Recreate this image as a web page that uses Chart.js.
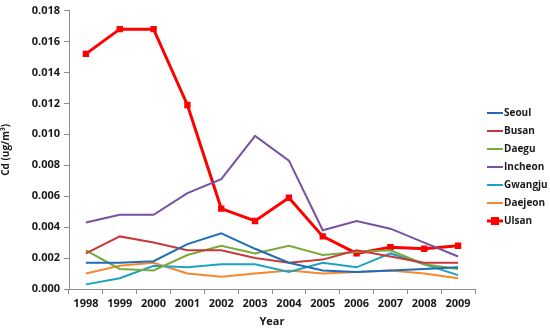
<!DOCTYPE html>
<html>
<head>
<meta charset="utf-8">
<script src="https://cdn.jsdelivr.net/npm/chart.js@4/dist/chart.umd.min.js"></script>
<style>
  html, body { margin: 0; padding: 0; background: #fff; }
  #wrap { width: 550px; height: 328px; position: relative; }
</style>
</head>
<body>
<div id="wrap"><canvas id="cd-chart"></canvas></div>
<script>
const years = ['1998', '1999', '2000', '2001', '2002', '2003', '2004', '2005', '2006', '2007', '2008', '2009'];

const seoul   = [0.0017, 0.0017, 0.0018, 0.0029, 0.0036, 0.0026, 0.0017, 0.0012, 0.0011, 0.0012, 0.0013, 0.0014];
const busan   = [0.0023, 0.0034, 0.0030, 0.0025, 0.0025, 0.0020, 0.0017, 0.0019, 0.0025, 0.0021, 0.0017, 0.0017];
const daegu   = [0.0025, 0.0013, 0.0012, 0.0022, 0.0028, 0.0023, 0.0028, 0.0022, 0.0024, 0.0025, 0.0016, 0.0013];
const incheon = [0.0043, 0.0048, 0.0048, 0.0062, 0.0071, 0.0099, 0.0083, 0.0038, 0.0044, 0.0039, 0.0030, 0.0021];
const gwangju = [0.0003, 0.0007, 0.0015, 0.0014, 0.0016, 0.0016, 0.0011, 0.0017, 0.0014, 0.0023, 0.0016, 0.0009];
const daejeon = [0.0010, 0.0015, 0.0017, 0.0010, 0.0008, 0.0010, 0.0012, 0.0010, 0.0011, 0.0012, 0.0010, 0.0007];
const ulsan   = [0.0152, 0.0168, 0.0168, 0.0119, 0.0052, 0.0044, 0.0059, 0.0034, 0.0023, 0.0027, 0.0026, 0.0028];

const FONT = "'Open Sans', 'DejaVu Sans', sans-serif";

function line(label, data, color) {
    return {
        label: label,
        data: data,
        borderColor: color,
        backgroundColor: color,
        borderWidth: 2,
        tension: 0,
        pointRadius: 0,
        fill: false
    };
}

const datasets = [
    line('Seoul', seoul, '#1f6db4'),
    line('Busan', busan, '#c9393b'),
    line('Daegu', daegu, '#7aaa3c'),
    line('Incheon', incheon, '#7652a0'),
    line('Gwangju', gwangju, '#1aa4c2'),
    line('Daejeon', daejeon, '#f7882f'),
    {
        label: 'Ulsan',
        data: ulsan,
        borderColor: '#ff0000',
        backgroundColor: '#ff0000',
        borderWidth: 3,
        tension: 0,
        pointStyle: 'rect',
        pointRadius: 4.5,
        pointBorderWidth: 0,
        fill: false
    }
];

// legend drawn by hand so Ulsan gets its line + square marker
const sideLegend = {
    id: 'sideLegend',
    afterDraw(chart) {
        const ctx = chart.ctx;
        const x0 = 487, x1 = 503;
        let y = 113;
        ctx.save();
        ctx.font = "bold 10px " + FONT;
        ctx.textBaseline = 'middle';
        chart.data.datasets.forEach(ds => {
            ctx.strokeStyle = ds.borderColor;
            ctx.lineWidth = ds.borderWidth;
            ctx.beginPath();
            ctx.moveTo(x0, y);
            ctx.lineTo(x1, y);
            ctx.stroke();
            if (ds.pointStyle === 'rect') {
                ctx.fillStyle = ds.backgroundColor;
                ctx.fillRect((x0 + x1) / 2 - 4, y - 4, 8, 8);
            }
            ctx.fillStyle = '#1a1a1a';
            ctx.fillText(ds.label, x1 + 1, y + 0.5);
            y += 18;
        });
        ctx.restore();
    }
};

new Chart(document.getElementById('cd-chart'), {
    type: 'line',
    data: { labels: years, datasets: datasets },
    plugins: [sideLegend],
    options: {
        responsive: true,
        maintainAspectRatio: false,
        animation: false,
        layout: { padding: { top: 4, right: 75, left: 0, bottom: 0 } },
        plugins: {
            legend: { display: false },
            tooltip: { enabled: false }
        },
        scales: {
            x: {
                offset: true,
                grid: {
                    offset: true,
                    drawOnChartArea: false,
                    drawTicks: true,
                    tickLength: 5,
                    color: '#8c8c8c'
                },
                border: { color: '#8c8c8c', width: 1 },
                ticks: {
                    color: '#1a1a1a',
                    font: { family: FONT, size: 11, weight: 'bold' },
                    maxRotation: 0,
                    autoSkip: false,
                    padding: 3
                },
                title: {
                    display: true,
                    text: 'Year',
                    color: '#1a1a1a',
                    font: { family: FONT, size: 11, weight: 'bold' },
                    padding: { top: 2, bottom: 0 }
                },
                afterFit(scale) { scale.height = 39; }
            },
            y: {
                min: 0,
                max: 0.018,
                grid: {
                    drawOnChartArea: false,
                    drawTicks: true,
                    tickLength: 5,
                    color: '#8c8c8c'
                },
                border: { color: '#8c8c8c', width: 1 },
                ticks: {
                    stepSize: 0.002,
                    color: '#1a1a1a',
                    font: { family: FONT, size: 11, weight: 'bold' },
                    padding: 4,
                    callback: v => v.toFixed(3)
                },
                title: {
                    display: true,
                    text: 'Cd (ug/m³)',
                    color: '#1a1a1a',
                    font: { family: FONT, size: 10, weight: 'bold' },
                    padding: { top: 0, bottom: 6 }
                },
                afterFit(scale) { scale.width = 69; }
            }
        }
    }
});
</script>
</body>
</html>
